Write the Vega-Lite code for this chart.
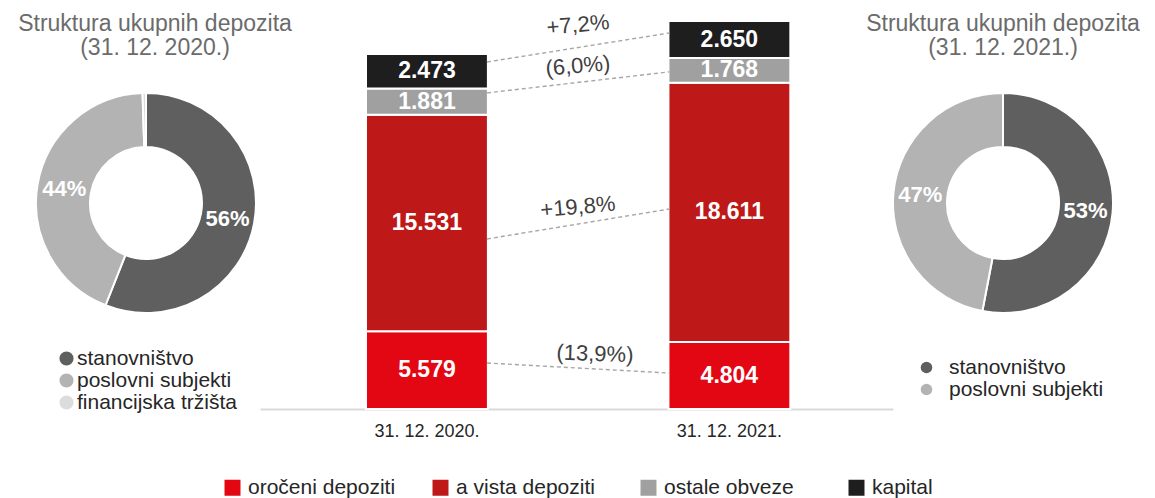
{
  "$schema": "https://vega.github.io/schema/vega-lite/v6.json",
  "background": "white",
  "padding": {"left": 0, "top": 10, "right": 0, "bottom": 0},
  "bounds": "flush",
  "spacing": 0,
  "resolve": {
    "scale": {"color": "independent", "theta": "independent", "x": "independent", "y": "independent"},
    "legend": {"color": "independent"}
  },
  "config": {
    "font": "Liberation Sans",
    "view": {"stroke": null},
    "text": {"font": "Liberation Sans"},
    "legend": {"labelFont": "Liberation Sans"},
    "axis": {"labelFont": "Liberation Sans"},
    "title": {"font": "Liberation Sans"}
  },
  "datasets": {
    "bars": [
      {"d": "31. 12. 2020.", "cat": "oročeni depoziti", "v": 5579, "k": 1, "lab": "5.579"},
      {"d": "31. 12. 2020.", "cat": "a vista depoziti", "v": 15531, "k": 2, "lab": "15.531"},
      {"d": "31. 12. 2020.", "cat": "ostale obveze", "v": 1881, "k": 3, "lab": "1.881"},
      {"d": "31. 12. 2020.", "cat": "kapital", "v": 2473, "k": 4, "lab": "2.473"},
      {"d": "31. 12. 2021.", "cat": "oročeni depoziti", "v": 4804, "k": 1, "lab": "4.804"},
      {"d": "31. 12. 2021.", "cat": "a vista depoziti", "v": 18611, "k": 2, "lab": "18.611"},
      {"d": "31. 12. 2021.", "cat": "ostale obveze", "v": 1768, "k": 3, "lab": "1.768"},
      {"d": "31. 12. 2021.", "cat": "kapital", "v": 2650, "k": 4, "lab": "2.650"}
    ],
    "links": [
      {"d": "31. 12. 2020.", "d2": "31. 12. 2021.", "y1": 24900, "y2": 26980},
      {"d": "31. 12. 2020.", "d2": "31. 12. 2021.", "y1": 22680, "y2": 24190},
      {"d": "31. 12. 2020.", "d2": "31. 12. 2021.", "y1": 12200, "y2": 14350},
      {"d": "31. 12. 2020.", "d2": "31. 12. 2021.", "y1": 3300, "y2": 2580}
    ],
    "changesUp": [
      {"d": "31. 12. 2020.", "ly": 27560, "t": "+7,2%"},
      {"d": "31. 12. 2020.", "ly": 24620, "t": "(6,0%)"},
      {"d": "31. 12. 2020.", "ly": 14500, "t": "+19,8%"}
    ],
    "changesDown": [
      {"d": "31. 12. 2020.", "ly": 3950, "t": "(13,9%)"}
    ]
  },
  "hconcat": [
    {
      "width": 260,
      "height": 386,
      "title": {
        "text": ["Struktura ukupnih depozita", "(31. 12. 2020.)"],
        "anchor": "middle", "dx": 25, "frame": "group", "offset": -50,
        "fontSize": 23, "fontWeight": "normal", "color": "#6b6b6b", "lineHeight": 24
      },
      "data": {"values": [
        {"yr": "2020", "cat": "stanovništvo", "pct": 56, "k": 1, "lab": "56%"},
        {"yr": "2020", "cat": "poslovni subjekti", "pct": 43.5, "k": 2, "lab": "44%"},
        {"yr": "2020", "cat": "financijska tržišta", "pct": 0.5, "k": 3, "lab": ""}
      ]},
      "encoding": {
        "theta": {"field": "pct", "type": "quantitative", "stack": true},
        "order": {"field": "k", "type": "quantitative"},
        "x": {"field": "yr", "type": "nominal", "scale": {"type": "point", "align": 0.5615}, "axis": null}
      },
      "layer": [
        {
          "mark": {"type": "arc", "innerRadius": 56, "outerRadius": 110, "stroke": "white", "strokeWidth": 2},
          "encoding": {
            "color": {
              "field": "cat", "type": "nominal",
              "scale": {"domain": ["stanovništvo", "poslovni subjekti", "financijska tržišta"], "range": ["#5f5f5f", "#b3b3b3", "#dcdcdc"]},
              "legend": {"orient": "none", "legendX": 56, "legendY": 338, "title": null, "symbolType": "circle", "symbolSize": 200, "symbolStrokeWidth": 0, "labelFontSize": 21, "labelColor": "#262626", "labelOffset": 0, "rowPadding": 0}
            }
          }
        },
        {
          "mark": {"type": "text", "radius": 83, "fontSize": 22, "fontWeight": "bold", "fill": "white", "baseline": "middle", "align": "center"},
          "encoding": {"text": {"field": "lab"}}
        }
      ]
    },
    {
      "width": 633,
      "height": 399,
      "layer": [
        {
          "data": {"name": "bars"},
          "mark": {"type": "bar", "stroke": "white", "strokeWidth": 2},
          "encoding": {
            "x": {
              "field": "d", "type": "nominal",
              "scale": {"domain": ["31. 12. 2020.", "31. 12. 2021."], "paddingInner": 0.597, "paddingOuter": 0.345, "align": 0.508},
              "axis": {"title": null, "orient": "bottom", "domainColor": "#d9d9d9", "domainWidth": 2, "ticks": false, "labelAngle": 0, "labelFontSize": 18, "labelColor": "#262626", "labelPadding": 13}
            },
            "y": {"field": "v", "type": "quantitative", "stack": "zero", "scale": {"domain": [0, 28630], "nice": false}, "axis": null},
            "color": {
              "field": "cat", "type": "nominal",
              "scale": {"domain": ["oročeni depoziti", "a vista depoziti", "ostale obveze", "kapital"], "range": ["#e30613", "#be1818", "#a0a0a0", "#1e1e1e"]},
              "legend": {"orient": "none", "legendX": -38, "legendY": 467, "direction": "horizontal", "columns": 4, "gridAlign": "all", "columnPadding": 34, "title": null, "symbolType": "square", "symbolSize": 256, "symbolStrokeWidth": 0, "labelFontSize": 21, "labelColor": "#262626", "labelOffset": 5}
            },
            "order": {"field": "k", "type": "quantitative"}
          }
        },
        {
          "data": {"name": "bars"},
          "mark": {"type": "text", "fontSize": 23, "fontWeight": "bold", "fill": "white", "baseline": "middle", "align": "center"},
          "encoding": {
            "x": {"field": "d", "type": "nominal"},
            "y": {"field": "v", "type": "quantitative", "stack": "zero", "bandPosition": 0.5},
            "detail": {"field": "cat"},
            "order": {"field": "k", "type": "quantitative"},
            "text": {"field": "lab"}
          }
        },
        {
          "data": {"name": "links"},
          "mark": {"type": "rule", "xOffset": 60, "x2Offset": -60, "strokeDash": [4, 3], "color": "#a6a6a6", "strokeWidth": 1.4},
          "encoding": {
            "x": {"field": "d", "type": "nominal"},
            "x2": {"field": "d2"},
            "y": {"field": "y1", "type": "quantitative"},
            "y2": {"field": "y2"}
          }
        },
        {
          "data": {"name": "changesUp"},
          "mark": {"type": "text", "fontSize": 22, "fill": "#404040", "angle": -5, "xOffset": 151, "baseline": "middle", "align": "center"},
          "encoding": {
            "x": {"field": "d", "type": "nominal"},
            "y": {"field": "ly", "type": "quantitative"},
            "text": {"field": "t"}
          }
        },
        {
          "data": {"name": "changesDown"},
          "mark": {"type": "text", "fontSize": 22, "fill": "#404040", "angle": 2, "xOffset": 168, "baseline": "middle", "align": "center"},
          "encoding": {
            "x": {"field": "d", "type": "nominal"},
            "y": {"field": "ly", "type": "quantitative"},
            "text": {"field": "t"}
          }
        }
      ]
    },
    {
      "width": 220,
      "height": 386,
      "title": {
        "text": ["Struktura ukupnih depozita", "(31. 12. 2021.)"],
        "anchor": "middle", "frame": "group", "offset": -50,
        "fontSize": 23, "fontWeight": "normal", "color": "#6b6b6b", "lineHeight": 24
      },
      "data": {"values": [
        {"cat": "stanovništvo", "pct": 53, "k": 1, "lab": "53%"},
        {"cat": "poslovni subjekti", "pct": 47, "k": 2, "lab": "47%"}
      ]},
      "encoding": {
        "theta": {"field": "pct", "type": "quantitative", "stack": true},
        "order": {"field": "k", "type": "quantitative"}
      },
      "layer": [
        {
          "mark": {"type": "arc", "innerRadius": 56, "outerRadius": 110, "stroke": "white", "strokeWidth": 2},
          "encoding": {
            "color": {
              "field": "cat", "type": "nominal",
              "scale": {"domain": ["stanovništvo", "poslovni subjekti"], "range": ["#5f5f5f", "#b3b3b3"]},
              "legend": {"orient": "none", "legendX": 23, "legendY": 347, "title": null, "symbolType": "circle", "symbolSize": 133, "symbolStrokeWidth": 0, "labelFontSize": 21, "labelColor": "#262626", "labelOffset": 12, "rowPadding": 0}
            }
          }
        },
        {
          "mark": {"type": "text", "radius": 83, "fontSize": 22, "fontWeight": "bold", "fill": "white", "baseline": "middle", "align": "center"},
          "encoding": {"text": {"field": "lab"}}
        }
      ]
    }
  ]
}
